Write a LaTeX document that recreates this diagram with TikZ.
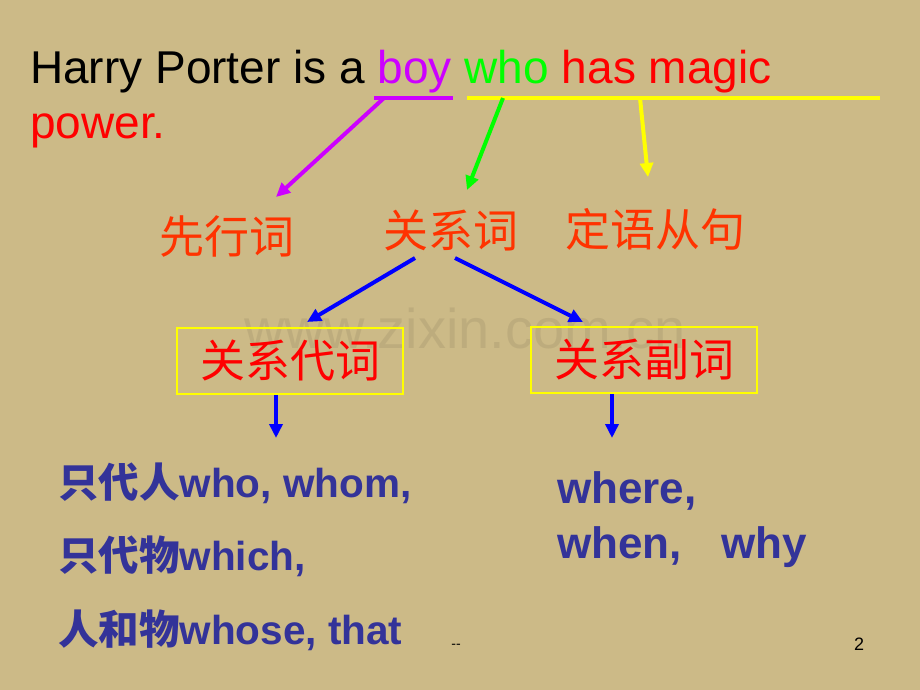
\documentclass[tikz,border=0pt]{standalone}
\usepackage{fontspec}
\setmainfont{Liberation Sans}
\newfontfamily\cjk{Noto Sans CJK SC}
\usetikzlibrary{arrows.meta}
\definecolor{bgc}{RGB}{204,186,135}
\definecolor{boyc}{RGB}{204,0,255}
\definecolor{whoc}{RGB}{0,255,0}
\definecolor{redc}{RGB}{255,0,0}
\definecolor{orc}{RGB}{255,51,0}
\definecolor{ylc}{RGB}{255,255,0}
\definecolor{bluec}{RGB}{0,0,255}
\definecolor{navyc}{RGB}{51,51,153}
\tikzset{
  txt/.style={inner sep=0pt, anchor=base west},
  cjkhead/.style={inner sep=0pt, text=orc, font=\cjk\fontsize{45}{50}\selectfont},
  catbox/.style={draw=ylc, line width=1.5pt, minimum width=226pt, minimum height=66pt, inner sep=0pt, text=redc, font=\cjk\fontsize{45}{50}\selectfont},
  bluetxt/.style={txt, text=navyc, font=\bfseries\fontsize{40.5}{46}\selectfont},
  bluetxtb/.style={txt, text=navyc, font=\bfseries\fontsize{44}{50}\selectfont},
  arr/.style={line width=4pt, -{Triangle[length=14pt,width=13pt]}},
}
\begin{document}
\begin{tikzpicture}[x=1pt,y=-1pt]
\fill[bgc] (0,0) rectangle (920,690);
\useasboundingbox (0,0) rectangle (920,690);

% watermark
\node[inner sep=0pt, text=black, opacity=0.07, font=\fontsize{56}{60}\selectfont] (wm) at (465,328) {www.zixin.com.cn};

% sentence
\node[txt, font=\fontsize{46}{52}\selectfont] (sent) at (30,84) {Harry Porter is a \textcolor{boyc}{boy} \textcolor{whoc}{who} \textcolor{redc}{has magic}};
\node[txt, text=redc, font=\fontsize{46}{52}\selectfont] (pow) at (30,138) {power.};

% underlines
\coordinate (ub1) at (374,98);
\coordinate (ub2) at (453,98);
\coordinate (uy1) at (467,98);
\coordinate (uy2) at (880,98);
\coordinate (pb) at (384,98);
\coordinate (pg) at (503,98);
\coordinate (py) at (640,98);
\draw[boyc, line width=4pt] (ub1) -- (ub2);
\draw[ylc, line width=4.5pt] (uy1) -- (uy2);

% headings
\node[cjkhead] (xian) at (227,236) {先行词};
\node[cjkhead] (guan) at (451,230) {关系词};
\node[cjkhead] (ding) at (655,229) {定语从句};

\coordinate (xt) at (276,197);
\coordinate (gt) at (467,190);
\coordinate (yt) at (648,177);
\draw[arr, boyc] (pb) -- (xt);
\draw[arr, whoc] (pg) -- (gt);
\draw[arr, ylc] (py) -- (yt);

% boxes
\node[catbox] (dai) at (290,361) {关系代词};
\node[catbox] (fu) at (644,360) {关系副词};

\coordinate (gl) at (415,258);
\coordinate (gr) at (455,258);
\draw[arr, bluec] (gl) -- (307,322);
\draw[arr, bluec] (gr) -- (583,322);

\coordinate (d1) at (276,438);
\coordinate (d2) at (612,438);
\draw[arr, bluec] (dai.south -| d1) -- (d1);
\draw[arr, bluec] (fu.south -| d2) -- (d2);

% lists
\node[bluetxt] (l1) at (58,497) {{\cjk\bfseries 只代人}who, whom,};
\node[bluetxt] (l2) at (58,570) {{\cjk\bfseries 只代物}which,};
\node[bluetxt] (l3) at (58,644) {{\cjk\bfseries 人和物}whose, that};
\node[bluetxtb] (r1) at (557,503) {where,};
\node[bluetxtb] (r2) at (557,558) {when,\hspace{27pt} why};

% footer
\node[inner sep=0pt, font=\fontsize{14}{16}\selectfont] (dash) at (456,646) {-{}-};
\node[inner sep=0pt, font=\fontsize{18}{20}\selectfont] (pg2) at (859,644) {2};
\end{tikzpicture}
\end{document}
